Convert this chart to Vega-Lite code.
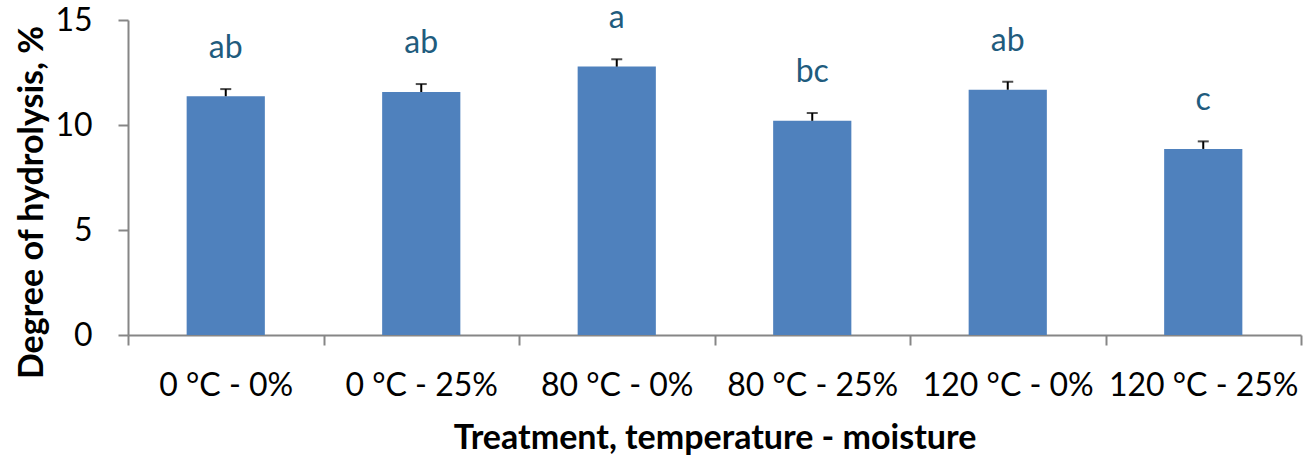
{
  "$schema": "https://vega.github.io/schema/vega-lite/v6.json",
  "autosize": "none",
  "width": 1173,
  "height": 315,
  "padding": {"left": 128, "top": 20, "right": 4, "bottom": 121},
  "background": "white",
  "config": {
    "view": {"stroke": null},
    "font": "Lato"
  },
  "data": {
    "values": [
      {"treatment": "0 °C - 0%", "dh": 11.37, "upper": 11.71, "group": "ab"},
      {"treatment": "0 °C - 25%", "dh": 11.57, "upper": 11.95, "group": "ab"},
      {"treatment": "80 °C - 0%", "dh": 12.78, "upper": 13.13, "group": "a"},
      {"treatment": "80 °C - 25%", "dh": 10.2, "upper": 10.57, "group": "bc"},
      {"treatment": "120 °C - 0%", "dh": 11.68, "upper": 12.06, "group": "ab"},
      {"treatment": "120 °C - 25%", "dh": 8.86, "upper": 9.22, "group": "c"}
    ]
  },
  "encoding": {
    "x": {
      "field": "treatment",
      "type": "nominal",
      "sort": null,
      "scale": {"paddingInner": 0, "paddingOuter": 0},
      "axis": {
        "title": "Treatment, temperature - moisture",
        "titleFont": "Lato",
        "titleFontSize": 34,
        "titleFontWeight": "bold",
        "titleColor": "black",
        "titleBaseline": "alphabetic",
        "titleY": 113,
        "labelFont": "Lato",
        "labelFontSize": 32,
        "labelColor": "black",
        "labelAngle": 0,
        "labelLimit": 0,
        "labelBaseline": "alphabetic",
        "labelPadding": 50,
        "tickBand": "extent",
        "tickSize": 10,
        "tickColor": "#868686",
        "tickWidth": 2,
        "domainColor": "#868686",
        "domainWidth": 2,
        "grid": false
      }
    }
  },
  "layer": [
    {
      "mark": {"type": "bar", "color": "#4F81BD", "width": {"band": 0.4}},
      "encoding": {
        "y": {
          "field": "dh",
          "type": "quantitative",
          "scale": {"domain": [0, 15], "nice": false},
          "axis": {
            "title": "Degree of hydrolysis, %",
            "titleFont": "Lato",
            "titleFontSize": 34,
            "titleFontWeight": "bold",
            "titleColor": "black",
            "titleX": -96,
            "titleY": 182,
            "titleBaseline": "middle",
            "titleAlign": "center",
            "titleAngle": -90,
            "values": [0, 5, 10, 15],
            "labelFont": "Lato",
            "labelFontSize": 32,
            "labelColor": "black",
            "labelPadding": 26,
            "tickSize": 10,
            "tickColor": "#868686",
            "tickWidth": 2,
            "domainColor": "#868686",
            "domainWidth": 2,
            "grid": false
          }
        }
      }
    },
    {
      "mark": {"type": "rule", "color": "black", "strokeWidth": 2},
      "encoding": {
        "y": {"field": "dh", "type": "quantitative"},
        "y2": {"field": "upper"}
      }
    },
    {
      "mark": {"type": "tick", "color": "black", "thickness": 2, "size": 11, "orient": "horizontal"},
      "encoding": {
        "y": {"field": "upper", "type": "quantitative"}
      }
    },
    {
      "mark": {"type": "text", "color": "#1F5C7E", "font": "Lato", "fontSize": 32, "baseline": "alphabetic", "dy": -31},
      "encoding": {
        "y": {"field": "upper", "type": "quantitative"},
        "text": {"field": "group"}
      }
    }
  ]
}
